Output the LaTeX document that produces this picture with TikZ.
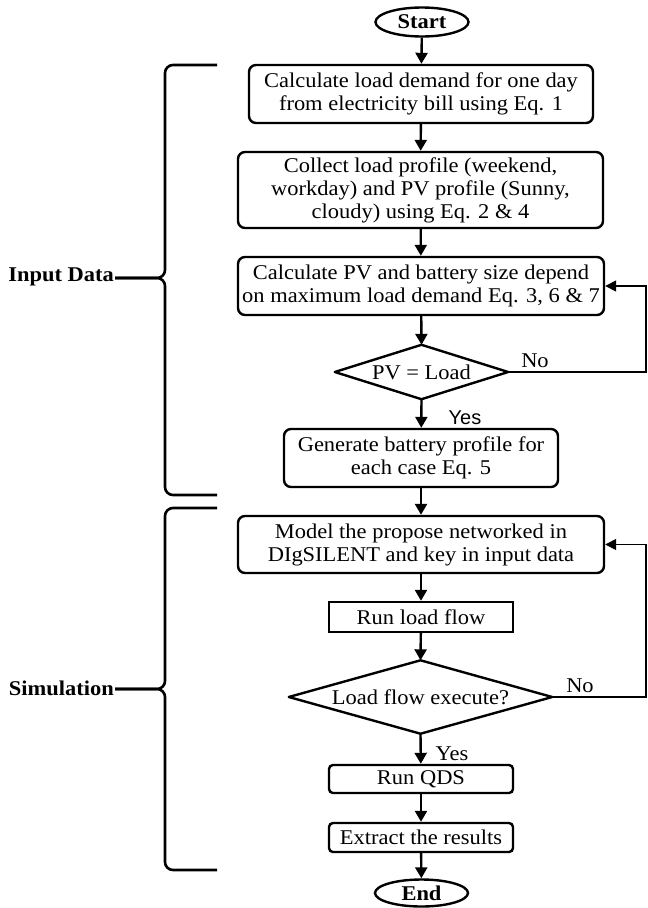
\documentclass[tikz,border=0pt]{standalone}
\usepackage{fontspec}
\setmainfont{Liberation Serif}[FakeStretch=1.07]
\newfontfamily\sansf{Liberation Sans}
\usetikzlibrary{shapes.geometric,arrows.meta}
\begin{document}
\begin{tikzpicture}[x=1pt,y=-1pt,
 every node/.style={font=\fontsize{21}{23}\selectfont, align=center, inner sep=0pt},
 proc/.style={draw, line width=2.4pt, rounded corners=7pt},
 plain/.style={draw, line width=2.4pt},
 term/.style={draw, ellipse, line width=2.4pt, font=\fontsize{21}{23}\selectfont\bfseries},
 dec/.style={inner sep=0pt},
 decline/.style={line width=2.4pt, line join=round},
 arr/.style={line width=2.4pt, -{Triangle[length=11pt,width=12pt]}},
 fb/.style={line width=1.5pt, -{Triangle[length=11pt,width=11pt]}},
 brace/.style={line width=2.6pt, rounded corners=8pt},
 lbl/.style={font=\fontsize{21}{23}\selectfont\bfseries, anchor=east}]
\useasboundingbox (0,0) rectangle (648,908);

\node[term, minimum width=93, minimum height=29] (start) at (422,22) {Start};
\node[proc, minimum width=344, minimum height=58] (b1) at (421,94) {Calculate load demand for one day\\from electricity bill using Eq. 1};
\node[proc, minimum width=365, minimum height=76] (b2) at (420.5,190) {Collect load profile (weekend,\\workday) and PV profile (Sunny,\\cloudy) using Eq. 2 \& 4};
\node[proc, minimum width=366, minimum height=58] (b3) at (421,286) {Calculate PV and battery size depend\\on maximum load demand Eq. 3, 6 \& 7};
\node[dec, minimum width=173, minimum height=54] (d1) at (421.5,372) {PV = Load};
\draw[decline] (d1.north) -- (d1.east) -- (d1.south) -- (d1.west) -- cycle;
\node[proc, minimum width=274, minimum height=58] (b4) at (421,458) {Generate battery profile for\\each case Eq. 5};
\node[proc, minimum width=366, minimum height=57] (b5) at (421,544.5) {Model the propose networked in\\DIgSILENT and key in input data};
\node[plain, minimum width=184, minimum height=30] (b6) at (421,617) {Run load flow};
\node[dec, minimum width=263, minimum height=73] (d2) at (420.5,697) {Load flow execute?};
\draw[decline] (d2.north) -- (d2.east) -- (d2.south) -- (d2.west) -- cycle;
\node[proc, rounded corners=4pt, minimum width=184, minimum height=28] (b7) at (421,779) {Run QDS};
\node[proc, rounded corners=4pt, minimum width=184, minimum height=29] (b8) at (421,837.5) {Extract the results};
\node[term, minimum width=93, minimum height=27] (end) at (421.5,893) {End};

\draw[arr] (start) -- (b1);
\draw[arr] (b1) -- (b2);
\draw[arr] (b2) -- (b3);
\draw[arr] (b3) -- (d1.north);
\draw[arr] (d1.south) -- (b4);
\draw[arr] (b4) -- (b5);
\draw[arr] (b5) -- (b6);
\draw[arr] (b6) -- (d2.north);
\draw[arr] (d2.south) -- (b7);
\draw[arr] (b7) -- (b8);
\draw[arr] (b8) -- (end);

\coordinate (r1) at (646,372);
\coordinate (r2) at (646,697);
\draw[fb] (d1.east) -- (r1) |- (b3.east);
\draw[fb] (d2.east) -- (r2) |- (b5.east);

\node (no1) at (535,361) {No};
\node (no2) at (580,686) {No};
\node[font=\fontsize{20}{22}\selectfont\sansf] (yes1) at (465,418) {Yes};
\node (yes2) at (452,754) {Yes};

\draw[brace] (217,65) -- (165,65) -- (165,278) -- (115,278);
\draw[brace] (115,278) -- (165,278) -- (165,495) -- (217,495);
\node[lbl] (in) at (114,277) {Input Data};
\draw[brace] (217,508) -- (165,508) -- (165,689) -- (115,689);
\draw[brace] (115,689) -- (165,689) -- (165,870) -- (217,870);
\node[lbl] (sim) at (114,688) {Simulation};
\end{tikzpicture}
\end{document}
